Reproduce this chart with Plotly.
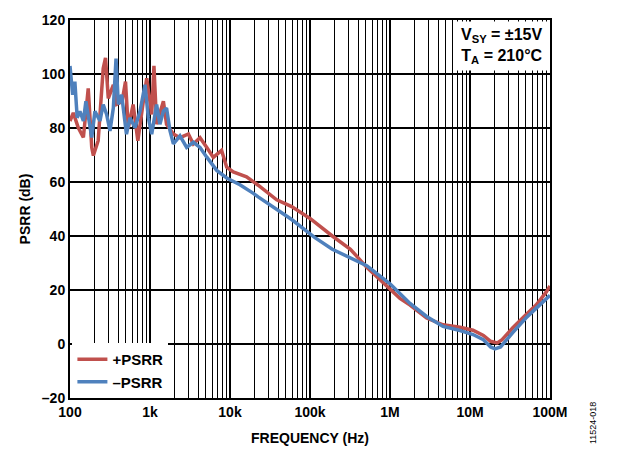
import plotly.graph_objects as go

# +PSRR measurement (frequency in Hz, PSRR in dB)
freq_pos = [100, 110, 127, 147, 169, 187, 196, 225, 260, 278, 301, 348, 383, 448,
            494, 535, 615, 705, 825, 910, 1050, 1120, 1210, 1470, 1610, 1960, 2370,
            3020, 3480, 4220, 5130, 6190, 7850, 9090, 10990, 16100, 22500, 38300,
            59000, 100000, 190000, 320000, 512000, 1.0e6, 1.33e6, 1.78e6, 2.87e6,
            4.6e6, 7.5e6, 10.9e6, 14.7e6, 18.1e6, 21.9e6, 25.2e6, 34e6, 50e6, 67e6,
            90e6, 100e6]
psrr_pos = [82.6, 85.6, 80.1, 76.5, 94.7, 72.8, 69.8, 75.3, 102, 106, 91, 96, 88.8, 89.9,
            97.2, 80, 88.7, 75.3, 89.9, 98.4, 85, 103, 81.4, 89.9, 81.4, 77.8, 76.4,
            77.8, 74.1, 76.4, 72.8, 69.1, 71.7, 65.5, 63.7, 61.9, 58.8, 53.4,
            50.9, 46.5, 40, 35.1, 28.4, 20.5, 16.9, 14.4, 9.6,
            7.1, 6.2, 5.1, 3.2, 1.0, 0.4, 1.6, 5.9, 10.8, 14.4,
            19.3, 21.5]

# -PSRR measurement
freq_neg = [100, 108, 115, 123, 133, 147, 158, 169, 187, 205, 237, 260, 287, 316,
            348, 376, 402, 442, 508, 562, 649, 750, 866, 953, 1050, 1210, 1330,
            1470, 1610, 1780, 1960, 2370, 2870, 3480, 4220, 5130, 6830, 9090,
            13300, 19600, 22500, 59000, 114000, 190000, 512000, 1.0e6, 1.78e6,
            2.87e6, 4.6e6, 7.5e6, 10.9e6, 14.7e6, 18.1e6, 20.5e6, 24.1e6, 34e6,
            50e6, 67e6, 100e6]
psrr_neg = [103, 92.3, 97.2, 83.8, 86.2, 82.6, 89.9, 83.8, 76.5, 86.2, 82.6, 88.7, 85, 78.9,
            87.4, 105.7, 88.7, 92.3, 77.7, 83.8, 80.1, 86.2, 96, 83.8, 77.7, 88.7, 81.4,
            86.2, 87.4, 78.9, 74.1, 77.1, 72.8, 74.7, 72.8, 69.2, 64.3, 61.5,
            59, 55.8, 54.5, 46.1, 39.5, 35.1, 29, 22.3, 15,
            10.2, 6.5, 5, 3.5, 1.6, -1.1, -1.8, -1.1, 4.1,
            9.6, 13.2, 18]

x_tickvals = [1e2, 1e3, 1e4, 1e5, 1e6, 1e7, 1e8]
x_ticktext = ["100", "1k", "10k", "100k", "1M", "10M", "100M"]
y_tickvals = [-20, 0, 20, 40, 60, 80, 100, 120]
y_ticktext = ["\u201320", "0", "20", "40", "60", "80", "100", "120"]

RED = "#C0504D"
BLUE = "#4F81BD"
FONT = "Liberation Sans, Arial, sans-serif"

fig = go.Figure()
fig.add_trace(go.Scatter(x=freq_pos, y=psrr_pos, mode="lines", name="+PSRR",
                         line=dict(color=RED, width=3.5)))
fig.add_trace(go.Scatter(x=freq_neg, y=psrr_neg, mode="lines", name="\u2013PSRR",
                         line=dict(color=BLUE, width=3.5)))

fig.update_layout(
    width=618, height=456,
    margin=dict(l=70, r=68, t=17, b=55),
    paper_bgcolor="white", plot_bgcolor="white",
    font=dict(family=FONT, size=14, color="black"),
    showlegend=True,
    legend=dict(x=0.005, y=0.0, xanchor="left", yanchor="bottom",
                bgcolor="white", borderwidth=0, itemwidth=30,
                tracegroupgap=0,
                font=dict(family=FONT, size=15, color="black", weight="bold")),
    annotations=[
        dict(xref="paper", yref="paper", x=0.995, y=0.997, xanchor="right", yanchor="top",
             align="right", showarrow=False, bgcolor="white", borderpad=4,
             text="V<sub>SY</sub> = \u00b115V<br>T<sub>A</sub> = 210\u00b0C",
             font=dict(family=FONT, size=16, color="black", weight="bold")),
        dict(xref="paper", yref="paper", x=1.09, y=-0.005, xanchor="center",
             yanchor="top", showarrow=False, textangle=-90,
             text="11524-018", font=dict(family=FONT, size=9, color="black")),
    ],
)

fig.update_xaxes(
    type="log", range=[2, 8],
    tickvals=x_tickvals, ticktext=x_ticktext, ticks="",
    tickfont=dict(family=FONT, size=14, color="black", weight="bold"),
    showgrid=True, gridcolor="black", gridwidth=2,
    minor=dict(dtick="D1", showgrid=True, gridcolor="black", gridwidth=1, ticks=""),
    showline=True, linecolor="black", linewidth=2, mirror=True,
    zeroline=False,
    title=dict(text="FREQUENCY (Hz)", standoff=14,
               font=dict(family=FONT, size=14, color="black", weight="bold")),
)
fig.update_yaxes(
    range=[-20, 120],
    tickvals=y_tickvals, ticktext=y_ticktext, ticks="",
    tickfont=dict(family=FONT, size=14, color="black", weight="bold"),
    showgrid=True, gridcolor="black", gridwidth=1.5,
    showline=True, linecolor="black", linewidth=2, mirror=True,
    zeroline=False,
    title=dict(text="PSRR (dB)", standoff=8,
               font=dict(family=FONT, size=14, color="black", weight="bold")),
)

fig.write_html("out.html")
